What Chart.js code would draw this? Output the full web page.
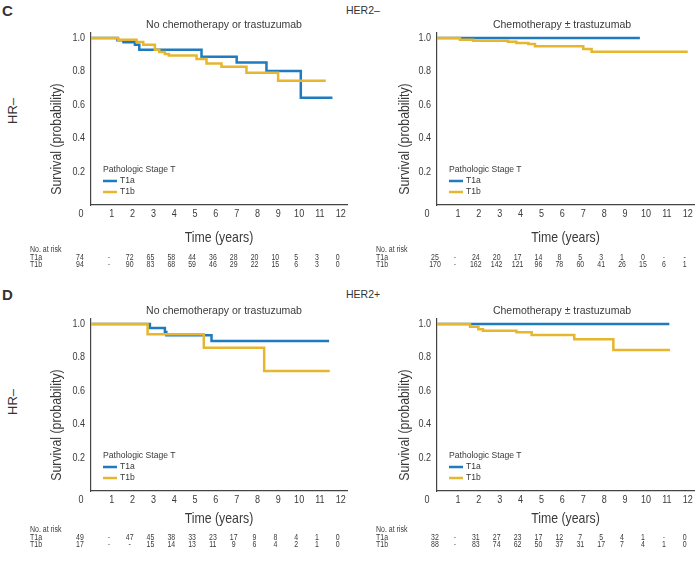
<!DOCTYPE html>
<html>
<head>
<meta charset="utf-8">
<script src="https://cdn.jsdelivr.net/npm/chart.js@4.4.1/dist/chart.umd.min.js"></script>
<style>
  body { margin: 0; background: #fff; }
  #wrap { position: relative; width: 697px; height: 562px; overflow: hidden; font-family: "Liberation Sans", Arial, sans-serif; color: #333; }
  .box { position: absolute; }
  .lab { position: absolute; white-space: nowrap; line-height: 1; }
  .rot { transform: translate(-50%, -50%) rotate(-90deg); }
</style>
</head>
<body>
<div id="wrap">
  <div class="lab" style="left:2px;top:3px;font-weight:bold;font-size:15px;">C</div>
  <div class="lab" style="left:346px;top:5px;font-size:10.5px;">HER2–</div>
  <div class="lab rot" style="left:12px;top:111px;font-size:13px;">HR–</div>
  <div class="lab" style="left:2px;top:287px;font-weight:bold;font-size:15px;">D</div>
  <div class="lab" style="left:346px;top:289px;font-size:10.5px;">HER2+</div>
  <div class="lab rot" style="left:12px;top:402px;font-size:13px;">HR–</div>

  <div class="box" style="left:0;top:0;"><canvas id="cLeft" width="348" height="280"></canvas></div>
  <div class="box" style="left:348px;top:0;"><canvas id="cRight" width="349" height="280"></canvas></div>
  <div class="box" style="left:0;top:286px;"><canvas id="dLeft" width="348" height="276"></canvas></div>
  <div class="box" style="left:348px;top:286px;"><canvas id="dRight" width="349" height="276"></canvas></div>
</div>
<script>
// tick labels
const xTickValues = [0, 1, 2, 3, 4, 5, 6, 7, 8, 9, 10, 11, 12];
const yTickValues = [0, 0.2, 0.4, 0.6, 0.8, 1.0];
const seriesNames = ['T1a', 'T1b'];

// C, HER2-, no chemotherapy
const cLeftT1aTime = [0, 1.27, 1.56, 2.11, 2.32, 5.31, 7.0, 8.43, 10.08, 11.6];
const cLeftT1aSurv = [1, 0.986, 0.974, 0.96, 0.93, 0.888, 0.854, 0.802, 0.643, 0.643];
const cLeftT1bTime = [0, 1.31, 2.19, 2.51, 3.07, 3.28, 3.55, 3.74, 5.07, 5.55, 6.27, 7.47, 8.99, 11.28];
const cLeftT1bSurv = [1, 0.99, 0.976, 0.96, 0.93, 0.916, 0.904, 0.895, 0.875, 0.848, 0.828, 0.792, 0.744, 0.744];
const cLeftRiskT1a = [74, '-', 72, 65, 58, 44, 36, 28, 20, 10, 5, 3, 0];
const cLeftRiskT1b = [94, '-', 90, 83, 68, 59, 46, 29, 22, 15, 6, 3, 0];

// C, HER2-, chemotherapy
const cRightT1aTime = [0, 9.71];
const cRightT1aSurv = [1, 1];
const cRightT1bTime = [0, 1.1, 1.74, 3.4, 3.8, 4.37, 4.69, 7.0, 7.4, 12.0];
const cRightT1bSurv = [1, 0.99, 0.984, 0.978, 0.97, 0.964, 0.95, 0.934, 0.918, 0.918];
const cRightRiskT1a = [25, '-', 24, 20, 17, 14, 8, 5, 3, 1, 0, '-', '-'];
const cRightRiskT1b = [170, '-', 162, 142, 121, 96, 78, 60, 41, 26, 15, 6, 1];

// D, HER2+, no chemotherapy
const dLeftT1aTime = [0, 2.83, 3.55, 3.62, 5.79, 11.44];
const dLeftT1aSurv = [1, 0.976, 0.952, 0.932, 0.898, 0.898];
const dLeftT1bTime = [0, 2.72, 5.42, 8.32, 11.47];
const dLeftT1bSurv = [1, 0.938, 0.858, 0.718, 0.718];
const dLeftRiskT1a = [49, '-', 47, 45, 38, 33, 23, 17, 9, 8, 4, 1, 0];
const dLeftRiskT1b = [17, '-', '-', 15, 14, 13, 11, 9, 6, 4, 2, 1, 0];

// D, HER2+, chemotherapy
const dRightT1aTime = [0, 11.12];
const dRightT1aSurv = [1, 1];
const dRightT1bTime = [0, 1.58, 1.98, 2.2, 3.8, 4.53, 6.57, 8.44, 11.15];
const dRightT1bSurv = [1, 0.984, 0.968, 0.96, 0.95, 0.934, 0.908, 0.844, 0.844];
const dRightRiskT1a = [32, '-', 31, 27, 23, 17, 12, 7, 5, 4, 1, '-', 0];
const dRightRiskT1b = [88, '-', 83, 74, 62, 50, 37, 31, 17, 7, 4, 1, 0];

const BLUE = '#1f7bbf';
const GOLD = '#e5b62e';
const TXT = '#3a3a3a';
const SANS = '"Liberation Sans", Arial, sans-serif';

function pts(t, s) { return t.map((v, i) => ({ x: v, y: s[i] })); }

// no condensed font installed: squeeze Liberation Sans horizontally
function nText(ctx, txt, x, y, size, align, rot) {
  ctx.save();
  ctx.font = size + 'px ' + SANS;
  ctx.translate(x, y);
  if (rot) ctx.rotate(rot);
  ctx.scale(0.82, 1);
  ctx.textAlign = align || 'center';
  ctx.textBaseline = 'middle';
  ctx.fillText(txt, 0, 0);
  ctx.restore();
}

// titles, tick labels, legend and "No. at risk" table
const kmText = {
  id: 'kmText',
  afterDraw(chart) {
    const o = chart.options.plugins.kmText;
    const ctx = chart.ctx, a = chart.chartArea, xs = chart.scales.x, ys = chart.scales.y;
    ctx.save();
    ctx.fillStyle = TXT;
    ctx.textAlign = 'center';
    ctx.textBaseline = 'middle';

    ctx.font = '10.5px ' + SANS;
    ctx.fillText(o.title, o.titleX, 25);

    // tick labels
    nText(ctx, '0', a.left - 10, a.bottom + 9, 11);
    xTickValues.forEach(v => {
      if (v > 0) nText(ctx, String(v), xs.getPixelForValue(v), a.bottom + 9, 11);
    });
    yTickValues.forEach(v => {
      if (v > 0) nText(ctx, v.toFixed(1), a.left - 6, ys.getPixelForValue(v), 11, 'right');
    });

    nText(ctx, 'Survival (probability)', 57, a.bottom - 66, 15, 'center', -Math.PI / 2);
    nText(ctx, 'Time (years)', (a.left + a.right) / 2, a.bottom + o.xTitleDy, 15);

    // legend
    const lx = a.left + 12;
    ctx.textAlign = 'left';
    ctx.font = '8.6px ' + SANS;
    ctx.fillText('Pathologic Stage T', lx, a.bottom - 35);
    [BLUE, GOLD].forEach((c, i) => {
      const ly = a.bottom - 24 + i * 11;
      ctx.strokeStyle = c;
      ctx.lineWidth = 2.5;
      ctx.beginPath();
      ctx.moveTo(lx, ly);
      ctx.lineTo(lx + 14, ly);
      ctx.stroke();
      ctx.fillStyle = TXT;
      ctx.fillText(seriesNames[i], lx + 17, ly);
    });

    // risk table
    const rx = a.left - 61;
    const ry = a.bottom + o.riskDy;
    nText(ctx, 'No. at risk', rx, ry, 8.5, 'left');
    [o.riskA, o.riskB].forEach((row, r) => {
      const yy = ry + 8 + r * 7;
      nText(ctx, seriesNames[r], rx, yy, 8.5, 'left');
      row.forEach((v, i) => {
        const px = i === 0 ? a.left + o.col0Dx : xs.getPixelForValue(xTickValues[i]) - 3;
        nText(ctx, String(v), px, yy, 8.5);
      });
    });
    ctx.restore();
  }
};

function makeChart(id, opt) {
  const ctx = document.getElementById(id).getContext('2d');
  return new Chart(ctx, {
    type: 'line',
    data: {
      datasets: [
        {
          label: 'T1b',
          data: pts(opt.bTime, opt.bSurv),
          borderColor: GOLD,
          borderWidth: 2.5,
          stepped: true,
          pointRadius: 0,
          fill: false,
          order: 0
        },
        {
          label: 'T1a',
          data: pts(opt.aTime, opt.aSurv),
          borderColor: BLUE,
          borderWidth: 2.5,
          stepped: true,
          pointRadius: 0,
          fill: false,
          order: 1
        }
      ]
    },
    options: {
      responsive: false,
      animation: false,
      layout: { padding: { left: 0, top: 33, right: opt.padRight, bottom: opt.padBottom } },
      plugins: {
        legend: { display: false },
        tooltip: { enabled: false },
        kmText: opt.text
      },
      scales: {
        x: {
          type: 'linear',
          min: 0,
          max: 12.3,
          afterBuildTicks: s => { s.ticks = xTickValues.map(v => ({ value: v })); },
          afterFit: s => { s.height = 20; s.paddingLeft = 0; s.paddingRight = 0; },
          grid: { display: false, drawTicks: false },
          border: { color: '#444', width: 1.2 },
          ticks: { display: false }
        },
        y: {
          min: 0,
          max: 1.03,
          afterBuildTicks: s => { s.ticks = yTickValues.map(v => ({ value: v })); },
          afterFit: s => { s.width = opt.axisLeft; s.paddingTop = 0; s.paddingBottom = 0; },
          grid: { display: false, drawTicks: false },
          border: { color: '#444', width: 1.2 },
          ticks: { display: false }
        }
      }
    },
    plugins: [kmText]
  });
}

makeChart('cLeft', {
  aTime: cLeftT1aTime, aSurv: cLeftT1aSurv, bTime: cLeftT1bTime, bSurv: cLeftT1bSurv,
  axisLeft: 91, padRight: 1, padBottom: 55,
  text: { title: 'No chemotherapy or trastuzumab', titleX: 224, xTitleDy: 33, riskDy: 45, col0Dx: -11, riskA: cLeftRiskT1a, riskB: cLeftRiskT1b }
});
makeChart('cRight', {
  aTime: cRightT1aTime, aSurv: cRightT1aSurv, bTime: cRightT1bTime, bSurv: cRightT1bSurv,
  axisLeft: 89, padRight: 3, padBottom: 55,
  text: { title: 'Chemotherapy ± trastuzumab', titleX: 214, xTitleDy: 33, riskDy: 45, col0Dx: -2, riskA: cRightRiskT1a, riskB: cRightRiskT1b }
});
makeChart('dLeft', {
  aTime: dLeftT1aTime, aSurv: dLeftT1aSurv, bTime: dLeftT1bTime, bSurv: dLeftT1bSurv,
  axisLeft: 91, padRight: 1, padBottom: 51,
  text: { title: 'No chemotherapy or trastuzumab', titleX: 224, xTitleDy: 28, riskDy: 39, col0Dx: -11, riskA: dLeftRiskT1a, riskB: dLeftRiskT1b }
});
makeChart('dRight', {
  aTime: dRightT1aTime, aSurv: dRightT1aSurv, bTime: dRightT1bTime, bSurv: dRightT1bSurv,
  axisLeft: 89, padRight: 3, padBottom: 51,
  text: { title: 'Chemotherapy ± trastuzumab', titleX: 214, xTitleDy: 28, riskDy: 39, col0Dx: -2, riskA: dRightRiskT1a, riskB: dRightRiskT1b }
});
</script>
</body>
</html>
